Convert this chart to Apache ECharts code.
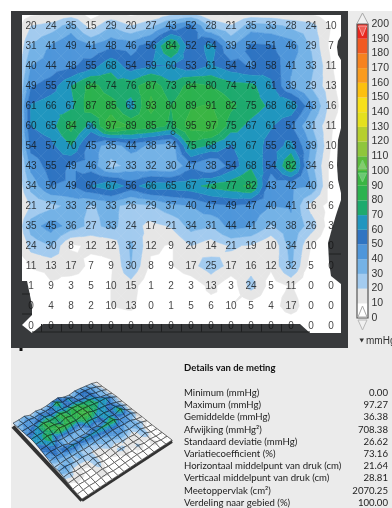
<!DOCTYPE html>
<html><head><meta charset="utf-8">
<style>html,body{margin:0;padding:0;background:#fff;overflow:hidden}#c{width:392px;height:508px;filter:blur(0.3px)}</style>
<script src="https://cdn.jsdelivr.net/npm/echarts@6/dist/echarts.min.js"></script>
</head><body><div id="c"></div>
<script>
const pressure = [
[20,24,35,15,29,20,27,43,52,28,21,35,33,28,24,10],
[31,41,49,41,48,46,56,84,52,64,39,52,51,46,29,7],
[40,44,48,55,68,54,59,60,53,61,54,49,58,41,33,11],
[49,55,70,84,74,76,87,73,84,80,74,73,61,39,29,13],
[61,66,67,87,85,65,93,80,89,91,82,75,68,68,43,16],
[60,65,84,66,97,89,85,78,95,97,75,67,61,51,31,11],
[54,57,70,45,35,44,38,34,75,68,59,67,55,63,39,10],
[43,55,49,46,27,33,32,30,47,38,54,68,54,82,34,6],
[34,50,49,60,67,56,66,65,67,73,77,82,43,42,40,6],
[21,27,33,29,33,26,29,37,40,47,49,47,40,41,16,6],
[35,45,36,27,33,24,17,21,34,31,44,41,29,38,26,3],
[24,30,8,12,12,32,12,9,20,14,21,19,10,34,10,0],
[11,13,17,7,9,30,8,9,17,25,17,16,12,32,5,0],
[1,9,3,5,10,15,1,2,3,13,3,24,5,11,0,0],
[0,4,8,2,10,13,0,1,5,6,10,5,4,17,0,0],
[0,0,0,0,0,0,0,0,0,0,0,0,0,0,0,0]];
const pressureCentre = [[7.1,5.33]];
const bandColors = ['#ffffff','#e6e6e6','#a3cbef','#74b2e6','#4f96da','#2f74c2','#2096bf','#1eaa6e','#2cb24f','#3ab544',
 '#5cba3c','#8fc63c','#b6cf2e','#e4e01e','#f7e01b','#fcc010','#f99b1e','#f6821f','#f15a22','#e8281e'];
const bandStep = 10;
const scaleTicks = {min:0,max:200,interval:10};
const statTitle = 'Details van de meting';
const statLabels = ['Minimum (mmHg)','Maximum (mmHg)','Gemiddelde (mmHg)','Afwijking (mmHg²)','Standaard deviatie (mmHg)','Variatiecoefficient (%)','Horizontaal middelpunt van druk (cm)','Verticaal middelpunt van druk (cm)','Meetoppervlak (cm²)','Verdeling naar gebied (%)'];
const statValues = ['0.00','97.27','36.38','708.38','26.62','73.16','21.64','28.81','2070.25','100.00'];
const unitLabel = 'mmHg';

const N = pressure.length;
const val = (c,r) => (c<0||r<0||c>=N||r>=N) ? 0 : pressure[r][c];
const lerp = (a,b,t) => [a[0]+(b[0]-a[0])*t, a[1]+(b[1]-a[1])*t, a[2]+(b[2]-a[2])*t];
function clipAbove(poly, lim, keepAbove){
  const out=[];
  for(let i=0;i<poly.length;i++){
    const a=poly[i], b=poly[(i+1)%poly.length];
    const ain = keepAbove ? a[2]>=lim : a[2]<=lim;
    const bin = keepAbove ? b[2]>=lim : b[2]<=lim;
    if(ain) out.push(a);
    if(ain!==bin) out.push(lerp(a,b,(lim-a[2])/(b[2]-a[2])));
  }
  return out;
}
function quadBands(c,r){
  const p=[[c,r,val(c,r)],[c+1,r,val(c+1,r)],[c+1,r+1,val(c+1,r+1)],[c,r+1,val(c,r+1)]];
  const m=[c+.5,r+.5,(p[0][2]+p[1][2]+p[2][2]+p[3][2])/4];
  const res=[];
  for(let k=0;k<4;k++){
    const tri=[p[k],p[(k+1)%4],m];
    const mn=Math.min(tri[0][2],tri[1][2],tri[2][2]), mx=Math.max(tri[0][2],tri[1][2],tri[2][2]);
    for(let b=0;b<bandColors.length;b++){
      const lo=b*bandStep, hi=lo+bandStep;
      if(hi<mn||lo>mx) continue;
      let q=clipAbove(tri,lo,true);
      if(q.length>2) q=clipAbove(q,hi,false);
      if(q.length>2) res.push({color:bandColors[b],pts:q});
    }
  }
  return res;
}
const mapCells=[]; for(let r=-1;r<N;r++) for(let c=-1;c<N;c++) mapCells.push([c,r]);
const surfCells=[]; for(let r=0;r<N-1;r++) for(let c=0;c<N-1;c++) surfCells.push([c,r]);
const labels=[]; pressure.forEach((row,r)=>row.forEach((v,c)=>labels.push([c,r,v])));
const bands=bandColors.map((col,i)=>[i*bandStep,(i+1)*bandStep,i]);

// oblique view of the mat used by the small surface picture
const corner={a:[13,425],b:[97,383],c:[172,440],d:[82,499]}, lift=0.09;
function project(c,r,v){
  const u=c/(N-1), w=r/(N-1);
  const x=(1-u)*(1-w)*corner.a[0]+u*(1-w)*corner.b[0]+u*w*corner.c[0]+(1-u)*w*corner.d[0];
  const y=(1-u)*(1-w)*corner.a[1]+u*(1-w)*corner.b[1]+u*w*corner.c[1]+(1-u)*w*corner.d[1];
  return [x,y-v*lift];
}

const DARK='#383a3c', PAPER='#ebebeb', LINE='#1f2021';
const poly=(pts,fill)=>({type:'polygon',shape:{points:pts},style:{fill}});
const hollow=(pts,stroke)=>({type:'polygon',shape:{points:pts},style:{fill:'rgba(255,255,255,0.25)',stroke,lineWidth:1}});
const seg=(x1,y1,x2,y2)=>({type:'line',shape:{x1,y1,x2,y2},style:{stroke:LINE,lineWidth:1}});
const furniture=[
 poly([[22,281],[27,281],[32,305],[32,315],[22,325]],DARK),
 poly([[22,325],[32,333],[22,333]],DARK),
 poly([[32,333],[43,324],[300,324],[310,333]],DARK),
 poly([[341,36],[338,41],[337,47],[338,55],[341,60]],DARK),
 poly([[341,128],[338,140],[337,165],[338,180],[341,193]],DARK),
 poly([[341,200],[337,212],[333,225],[328,243],[329,262],[331,276],[341,284]],DARK),
 seg(22,294,30,294),seg(22,314,32,314),seg(32,332,310,332),seg(329,254,341,254),
 {type:'rect',shape:{x:357,y:24,width:11,height:294},style:{fill:'none',stroke:'#555',lineWidth:1.2}},
 hollow([[362.5,13],[357,23.5],[368,23.5]],'#a8a8a8'),
 hollow([[358.5,26],[366.5,26],[362.5,36]],'rgba(255,180,180,0.8)'),
 hollow([[362.5,160],[358.5,169],[366.5,169]],'rgba(120,210,120,0.9)'),
 hollow([[358.5,173],[366.5,173],[362.5,182]],'rgba(120,210,120,0.9)'),
 hollow([[362.5,306],[358,317],[367,317]],'#a8a8a8'),
 hollow([[358,320],[367,320],[362.5,330]],'#b8b8b8'),
 poly([[359.5,338.5],[364,338.5],[361.7,342.5]],'#333'),
 {type:'rect',shape:{x:19.5,y:348,width:3,height:3},style:{fill:'#111'}}
];
for(let x=41.5;x<300;x+=20) furniture.push(seg(x,324,x,332));
const graphics=[
 {type:'rect',shape:{x:11,y:11,width:381,height:497},style:{fill:PAPER},silent:true},
 {type:'rect',shape:{x:11,y:11,width:337,height:337},style:{fill:DARK},silent:true},
 {type:'rect',shape:{x:22,y:15,width:319,height:318},style:{fill:'#fff'},silent:true},
 {type:'text',x:366,y:341,style:{text:unitLabel,fill:'#333',font:'10px "Liberation Sans"',textVerticalAlign:'middle'},silent:true},
 {type:'text',x:184,y:368,style:{text:statTitle,fill:'#111',font:'bold 9.5px Lato',textVerticalAlign:'middle'},silent:true}
];
statLabels.forEach((t,i)=>{
  const y=393+i*12.2;
  graphics.push({type:'text',x:184,y,style:{text:t,fill:'#222',font:'9.6px Lato',textVerticalAlign:'middle'},silent:true});
  graphics.push({type:'text',x:388,y,style:{text:statValues[i],fill:'#222',font:'9.6px Lato',textAlign:'right',textVerticalAlign:'middle'},silent:true});
});

const chart=echarts.init(document.getElementById('c'),null,{renderer:'canvas'});
const hiddenAxis=(min,max,extra)=>Object.assign({type:'value',min,max,show:false,scale:true},extra||{});
chart.setOption({
 animation:false,
 backgroundColor:'#fff',
 graphic:{elements:graphics},
 grid:[
  {left:22,top:15,width:319,height:318},
  {left:357,top:24,width:11,height:294},
  {left:0,top:0,width:392,height:508}
 ],
 xAxis:[
  hiddenAxis(-0.45,15.5,{gridIndex:0}),
  {gridIndex:1,type:'value',min:0,max:1,show:false},
  hiddenAxis(0,392,{gridIndex:2})
 ],
 yAxis:[
  hiddenAxis(-0.55,15.35,{gridIndex:0,inverse:true}),
  {gridIndex:1,type:'value',position:'right',min:scaleTicks.min,max:scaleTicks.max,interval:scaleTicks.interval,
   axisLine:{show:false},axisTick:{show:false},splitLine:{show:false},
   axisLabel:{margin:4,color:'#333',fontSize:10.5,fontFamily:'"Liberation Sans"'}},
  hiddenAxis(0,508,{gridIndex:2,inverse:true})
 ],
 series:[
  {type:'custom',xAxisIndex:0,yAxisIndex:0,clip:true,z:5,silent:true,data:mapCells,
   encode:{x:0,y:1},
   renderItem(p,api){
     const children=quadBands(api.value(0),api.value(1)).map(b=>({
       type:'polygon',shape:{points:b.pts.map(q=>api.coord([q[0],q[1]]))},
       style:{fill:b.color,stroke:b.color,lineWidth:0.5}}));
     return {type:'group',children};
   }},
  {type:'custom',xAxisIndex:1,yAxisIndex:1,z:5,silent:true,data:bands,encode:{y:[0,1]},
   renderItem(p,api){
     const a=api.coord([0,api.value(0)]), b=api.coord([1,api.value(1)]);
     return {type:'rect',shape:{x:a[0],y:b[1],width:b[0]-a[0],height:a[1]-b[1]},style:{fill:bandColors[api.value(2)]}};
   }},
  {type:'custom',xAxisIndex:2,yAxisIndex:2,z:8,silent:true,data:[[0,0]],encode:{x:0,y:1},
   renderItem(){ return {type:'group',children:furniture}; }},
  {type:'scatter',xAxisIndex:0,yAxisIndex:0,z:15,silent:true,symbolSize:0.01,data:labels,
   encode:{x:0,y:1},
   label:{show:true,position:'inside',formatter:d=>String(d.value[2]),color:'#111',fontSize:10,fontFamily:'"Liberation Sans"'}},
  {type:'scatter',xAxisIndex:0,yAxisIndex:0,z:16,silent:true,symbol:'circle',symbolSize:4,data:pressureCentre,
   itemStyle:{color:'transparent',borderColor:'#222',borderWidth:0.8}},
  // frame of the mat in the small surface picture
  {type:'custom',xAxisIndex:2,yAxisIndex:2,z:4,silent:true,data:[[0,0]],encode:{x:0,y:1},
   renderItem(p,api){
     const edge=(c1,r1,c2,r2,w)=>({type:'line',shape:{
        x1:api.coord(project(c1,r1,0))[0],y1:api.coord(project(c1,r1,0))[1]+1.5,
        x2:api.coord(project(c2,r2,0))[0],y2:api.coord(project(c2,r2,0))[1]+1.5},style:{stroke:'#333',lineWidth:w}});
     return {type:'group',children:[edge(0,0,0,N-1,4),edge(0,N-1,N-1,N-1,3),edge(N-1,N-1,N-1,0,2.2)]};
   }},
  {type:'custom',xAxisIndex:2,yAxisIndex:2,z:5,silent:true,data:surfCells,encode:{x:0,y:1},
   renderItem(p,api){
     const c=api.value(0), r=api.value(1);
     const children=quadBands(c,r).map(b=>({type:'polygon',
       shape:{points:b.pts.map(q=>api.coord(project(q[0],q[1],q[2])))},
       style:{fill:b.color,stroke:b.color,lineWidth:0.3}}));
     const outline=[[c,r],[c+1,r],[c+1,r+1],[c,r+1]].map(q=>api.coord(project(q[0],q[1],val(q[0],q[1]))));
     children.push({type:'polyline',shape:{points:outline.concat([outline[0]])},style:{fill:'none',stroke:'rgba(20,20,20,0.85)',lineWidth:0.65}});
     return {type:'group',children};
   }}
 ]
});
</script></body></html>
